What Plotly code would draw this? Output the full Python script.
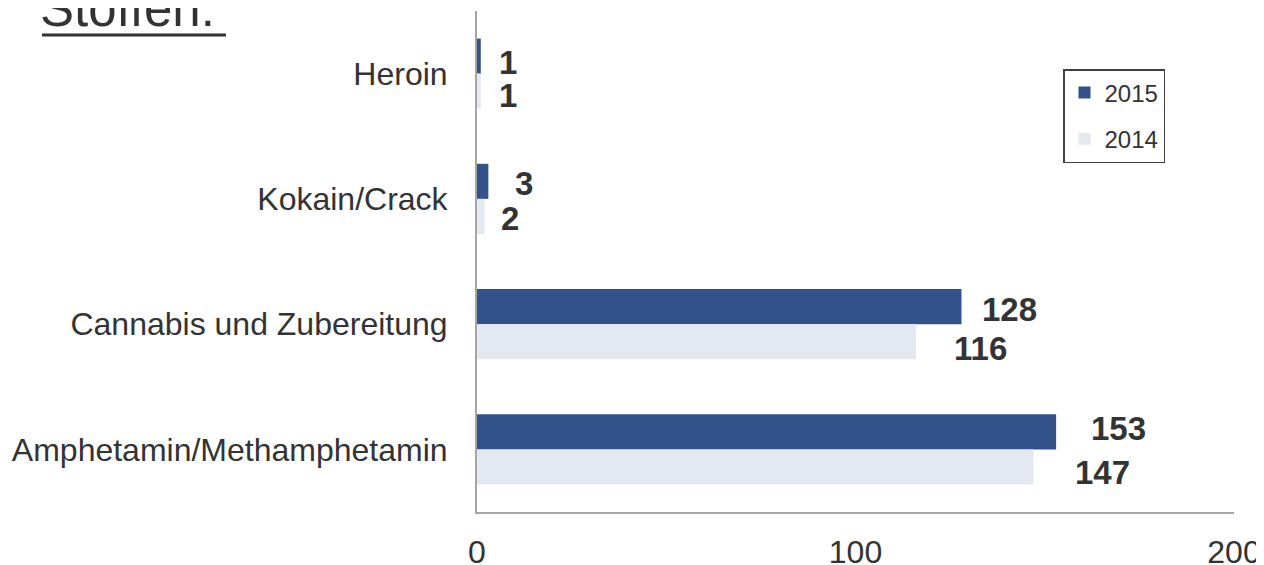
import plotly.graph_objects as go

categories = ["Heroin", "Kokain/Crack", "Cannabis und Zubereitung", "Amphetamin/Methamphetamin"]
values_2015 = [1, 3, 128, 153]
values_2014 = [1, 2, 116, 147]
series_names = ["2015", "2014"]
x_ticks = [0, 100, 200]
title_text = "Stoffen:"

# label placement styles (pixel offsets from bar end / bar centre)
dx_2015 = [27, 36, 48, 62]
dy_2015 = [6, 2, 3, -3]
dx_2014 = [27, 25, 64, 69]
dy_2014 = [4, 2, 7, 6]

C2015 = "#34528A"
C2014 = "#E4E8F1"
TXT = "#333333"
AX = "#A6A6A6"
FONT = "Liberation Sans, Arial, sans-serif"

W, H = 1264, 565
OFF = 8  # page body margin
# desired plot area in page pixels: x 477..1234, y 11..512
L = 477 - OFF
T = 11 - OFF
R = W - (1234 - OFF)
B = H - (512 - OFF)
pw, ph = W - L - R, H - T - B
def px(xp):
    return (xp - OFF - L) / pw
def py(yp):
    return (H - B - (yp - OFF)) / ph

fig = go.Figure()
fig.add_trace(go.Bar(y=categories, x=values_2015, orientation="h", name=series_names[0],
                     marker=dict(color=C2015, line=dict(width=0)), legendgroup="a"))
fig.add_trace(go.Bar(y=categories, x=values_2014, orientation="h", name=series_names[1],
                     marker=dict(color=C2014, line=dict(width=0)), legendgroup="b"))

half = 17.5
annotations = []
for cat, v, dx, dy in zip(categories, values_2015, dx_2015, dy_2015):
    annotations.append(dict(x=v, y=cat, xref="x", yref="y", text="<b>%d</b>" % v, showarrow=False,
                            xanchor="center", yanchor="middle", xshift=dx, yshift=half - dy,
                            font=dict(family=FONT, size=33, color=TXT)))
for cat, v, dx, dy in zip(categories, values_2014, dx_2014, dy_2014):
    annotations.append(dict(x=v, y=cat, xref="x", yref="y", text="<b>%d</b>" % v, showarrow=False,
                            xanchor="center", yanchor="middle", xshift=dx, yshift=-half - dy,
                            font=dict(family=FONT, size=33, color=TXT)))
annotations.append(dict(x=px(38), y=py(39), xref="paper", yref="paper", text=title_text,
                        showarrow=False, xanchor="left", yanchor="bottom",
                        font=dict(family=FONT, size=51, color=TXT)))

fig.update_layout(
    width=W, height=H,
    margin=dict(l=L, r=R, t=T, b=B, autoexpand=False),
    paper_bgcolor="white", plot_bgcolor="white",
    barmode="group", bargap=0.44, bargroupgap=0,
    font=dict(family=FONT, color=TXT),
    showlegend=True,
    legend=dict(x=px(1063), y=py(69), xref="paper", yref="paper", xanchor="left", yanchor="top",
                bgcolor="white", bordercolor="#404040", borderwidth=1.5,
                font=dict(family=FONT, size=24, color=TXT), tracegroupgap=12,
                traceorder="grouped"),
    annotations=annotations,
)

# underline of the title
fig.add_shape(type="line", xref="paper", yref="paper", x0=px(42), x1=px(226), y0=py(35), y1=py(35),
              line=dict(color=TXT, width=3))

fig.update_xaxes(range=[0, 200], tickvals=x_ticks, showgrid=False, zeroline=False, automargin=False,
                 showline=True, linecolor=AX, linewidth=2, ticks="",
                 tickfont=dict(family=FONT, size=32, color=TXT), ticklabelstandoff=11)
fig.update_yaxes(autorange="reversed", showgrid=False, showline=True, linecolor=AX, linewidth=2,
                 automargin=False, ticks="", tickfont=dict(family=FONT, size=32, color=TXT),
                 ticklabelstandoff=21)

fig.write_html("out.html")
